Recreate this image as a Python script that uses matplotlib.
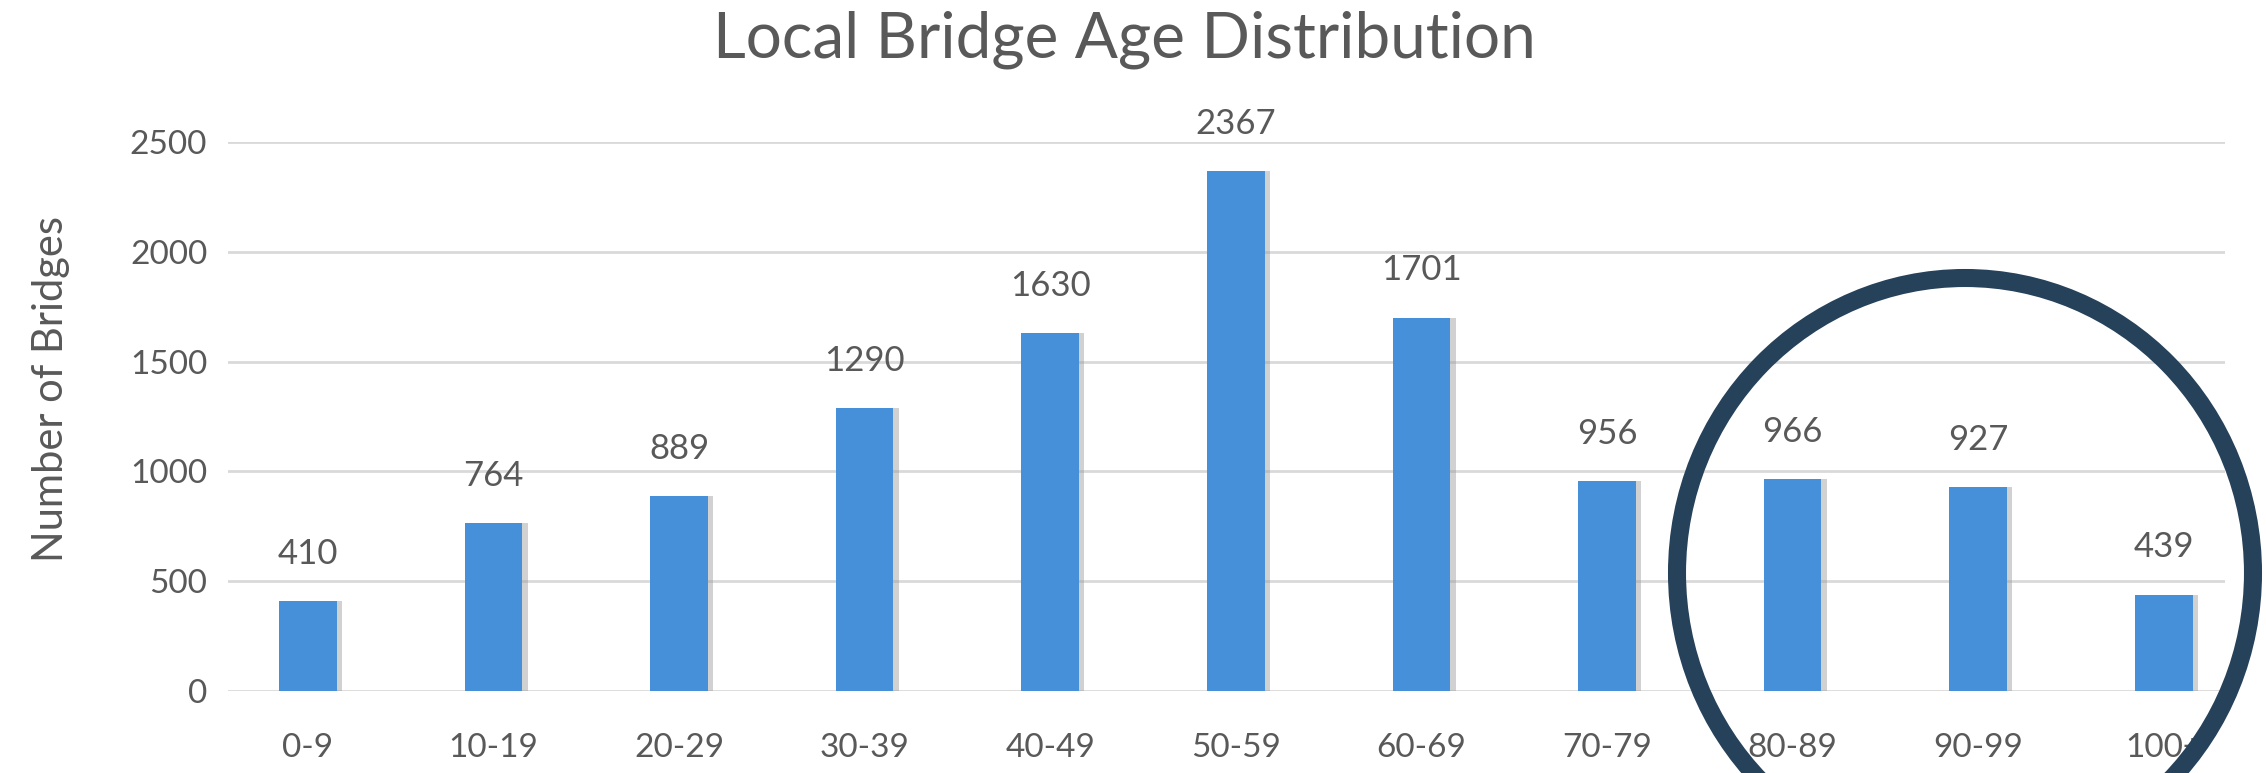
import matplotlib.pyplot as plt
from matplotlib.patches import Ellipse
import numpy as np

plt.rcParams['font.family'] = ['Lato', 'DejaVu Sans']

age_groups = ['0-9', '10-19', '20-29', '30-39', '40-49', '50-59',
              '60-69', '70-79', '80-89', '90-99', '100+']
bridge_counts = [410, 764, 889, 1290, 1630, 2367, 1701, 956, 966, 927, 439]
y_ticks = [0, 500, 1000, 1500, 2000, 2500]

text_color = '#595959'
bar_color = '#4590d8'
grid_color = '#d9d9d9'
circle_color = '#26415a'


def draw_chart():
    fig = plt.figure(figsize=(22.66, 7.73), dpi=100)
    ax = fig.add_axes([0.1006, 0.106, 0.8813, 0.7102])

    x = np.arange(len(age_groups))
    # soft shadow on the right side of each bar, like the excel style
    ax.bar(x + 0.035, bridge_counts, width=0.3, color='#9a9a9a', alpha=0.45, zorder=2)
    ax.bar(x, bridge_counts, width=0.31, color=bar_color, zorder=3)

    for xi, val in zip(x, bridge_counts):
        ax.annotate(str(val), (xi, val), xytext=(0, 34), textcoords='offset points',
                    ha='center', va='center', fontsize=25, color=text_color,
                    annotation_clip=False)

    ax.set_xlim(-0.43, 10.33)
    ax.set_ylim(0, 2500)
    ax.set_xticks(x)
    ax.set_xticklabels(age_groups)
    ax.set_yticks(y_ticks)
    ax.tick_params(axis='x', length=0, pad=30, labelsize=24, labelcolor=text_color)
    ax.tick_params(axis='y', length=0, pad=15, labelsize=24, labelcolor=text_color)
    ax.grid(axis='y', color=grid_color, linewidth=2, zorder=0)
    ax.set_axisbelow(True)
    for s in ax.spines.values():
        s.set_visible(False)

    fig.text(51 / 2266, 1 - 389 / 773, 'Number of Bridges', rotation=90,
             ha='center', va='center', fontsize=30, color=text_color)

    fig.text(0.496, 1 - 40 / 773, 'Local Bridge Age Distribution', ha='center',
             va='center', fontsize=46, color=text_color)

    # highlight circle around the oldest groups
    circle = Ellipse((1965 / 2266, 1 - 573 / 773), 576 / 2266, 590 / 773,
                     transform=fig.transFigure, fill=False, edgecolor=circle_color,
                     linewidth=13, clip_on=False, zorder=10)
    fig.add_artist(circle)

    plt.savefig('out.png', dpi=100)


draw_chart()
